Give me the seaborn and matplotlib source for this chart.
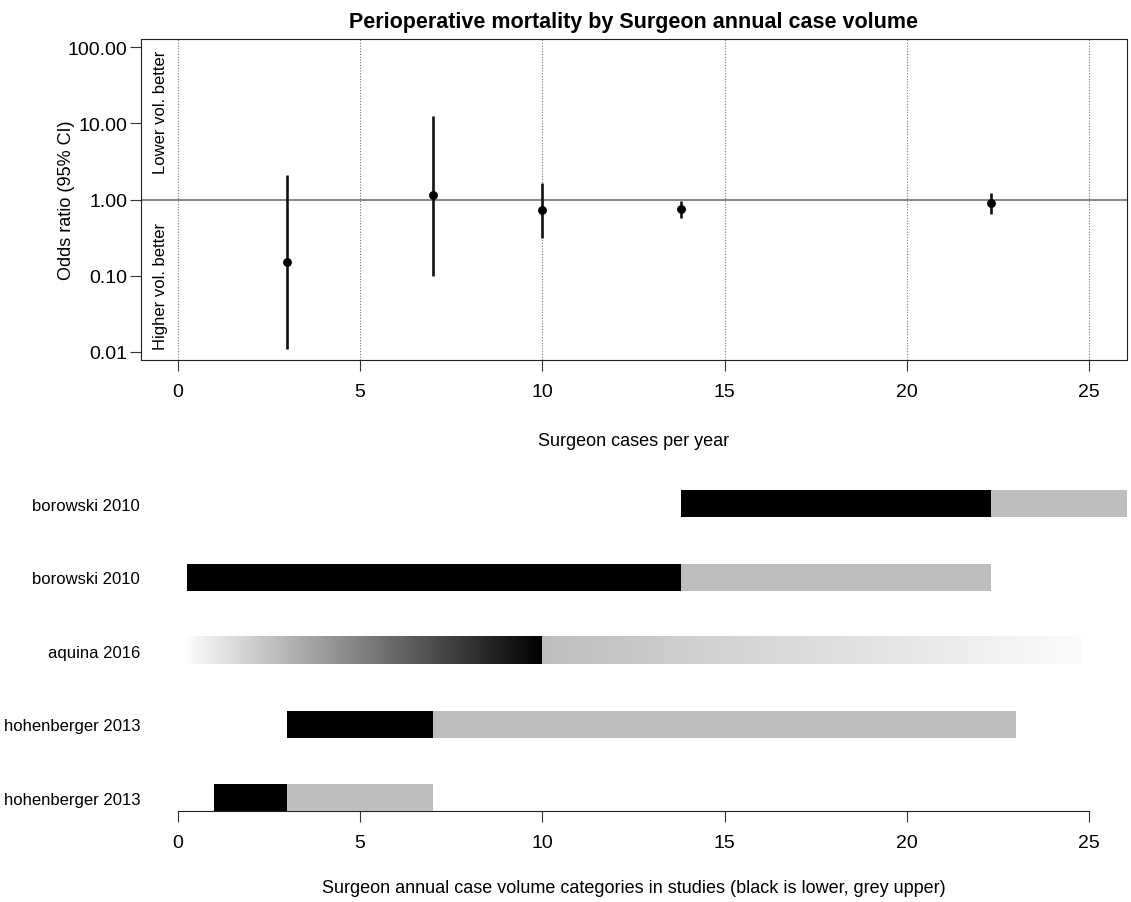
import numpy as np
import pandas as pd
import matplotlib
matplotlib.use("Agg")
import matplotlib.pyplot as plt
import seaborn as sns
from matplotlib.colors import LinearSegmentedColormap

# --- datos: odds ratio por volumen anual del cirujano ---
OR_X = [3.0, 7.0, 10.0, 13.8, 22.3]
OR_EST = [0.15, 1.13, 0.72, 0.75, 0.90]
OR_LO = [0.011, 0.10, 0.31, 0.57, 0.65]
OR_HI = [2.1, 12.6, 1.67, 0.97, 1.21]

# --- categorias de volumen en los estudios (de abajo hacia arriba) ---
STUDIES = ["hohenberger 2013", "hohenberger 2013", "aquina 2016", "borowski 2010", "borowski 2010"]
LOW_START = [1.0, 3.0, 0.15, 0.25, 13.8]
CUTOFF = [3.0, 7.0, 10.0, 13.8, 22.3]
HIGH_END = [7.0, 23.0, 24.8, 22.3, 30.0]
GRADIENT = [False, False, True, False, False]

X_TICKS = [0, 5, 10, 15, 20, 25]
Y_TICKS = [0.01, 0.1, 1, 10, 100]
Y_LABELS = ["0.01", "0.10", "1.00", "10.00", "100.00"]

sns.set_theme(style="white", rc={
    "axes.edgecolor": "#222222",
    "text.color": "black",
    "axes.labelcolor": "black",
    "xtick.color": "black",
    "ytick.color": "black",
    "xtick.bottom": True,
    "ytick.left": True,
    "xtick.direction": "out",
    "ytick.direction": "out",
})
plt.rcParams["font.family"] = ["Liberation Sans", "DejaVu Sans"]

fig = plt.figure(figsize=(11.31, 9.03), dpi=100)
ax1 = fig.add_axes([0.1244, 0.6002, 0.8721, 0.3555])
ax2 = fig.add_axes([0.1244, 0.1008, 0.8721, 0.3648])

XLIM = (-1.015, 26.04)

# ---------- panel superior ----------
df = pd.DataFrame({"x": OR_X, "est": OR_EST, "lo": OR_LO, "hi": OR_HI})
for xv in X_TICKS:
    ax1.axvline(xv, color="#777777", linestyle=(0, (1, 1.5)), linewidth=0.8, zorder=1)
ax1.axhline(1, color="#666666", linewidth=1.1, zorder=1)
ax1.vlines(df["x"], df["lo"], df["hi"], color="#111111", linewidth=1.9, zorder=3)
sns.scatterplot(data=df, x="x", y="est", color="black", s=34, edgecolor="black",
                linewidth=0.5, ax=ax1, zorder=4)
ax1.set_yscale("log")
ax1.set_xlim(*XLIM)
ax1.set_ylim(10 ** -2.109, 10 ** 2.109)
ax1.set_xticks(X_TICKS)
ax1.set_xticklabels([str(t) for t in X_TICKS])
ax1.set_yticks(Y_TICKS)
ax1.set_yticklabels(Y_LABELS)
ax1.yaxis.set_minor_locator(matplotlib.ticker.NullLocator())
ax1.tick_params(axis="both", labelsize=14, length=7.8, width=0.8, color="#333333")
ax1.tick_params(axis="y", pad=2)
ax1.tick_params(axis="x", pad=8.5)
for sp in ax1.spines.values():
    sp.set_linewidth(0.8)
ax1.set_xlabel("Surgeon cases per year", fontsize=13, labelpad=23)
ax1.set_ylabel("Odds ratio (95% CI)", fontsize=13)
ax1.yaxis.set_label_coords(-0.067, 0.5)
ax1.set_title("Perioperative mortality by Surgeon annual case volume",
              fontsize=15.5, fontweight="bold", pad=9)
ax1.text(-0.47, 94, "Lower vol. better", rotation=90, ha="center", va="top", fontsize=12)
ax1.text(-0.47, 0.0109, "Higher vol. better", rotation=90, ha="center", va="bottom", fontsize=12)

# ---------- panel inferior ----------
H = 0.37
rows = np.arange(len(STUDIES))
fade_cmap = LinearSegmentedColormap.from_list("fade", ["#ffffff", "#000000"])
grey_fade = LinearSegmentedColormap.from_list("gfade", ["#bebebe", "#fbfbfb"])
for i in rows:
    if GRADIENT[i]:
        grad = np.linspace(0, 1, 256).reshape(1, -1)
        ax2.imshow(grad, cmap=fade_cmap, aspect="auto", interpolation="bilinear",
                   extent=(LOW_START[i], CUTOFF[i], i - H / 2, i + H / 2), zorder=2)
        ax2.imshow(grad, cmap=grey_fade, aspect="auto", interpolation="bilinear",
                   extent=(CUTOFF[i], HIGH_END[i], i - H / 2, i + H / 2), zorder=2)
    else:
        ax2.barh(i, CUTOFF[i] - LOW_START[i], left=LOW_START[i], height=H,
                 color="black", linewidth=0, zorder=2)
        ax2.barh(i, HIGH_END[i] - CUTOFF[i], left=CUTOFF[i], height=H,
                 color="#bebebe", linewidth=0, zorder=2)

ax2.set_xlim(*XLIM)
ax2.set_ylim(-0.175, 4.3)
for name in ["top", "right", "left"]:
    ax2.spines[name].set_visible(False)
ax2.spines["bottom"].set_bounds(0, 25)
ax2.spines["bottom"].set_linewidth(0.8)
ax2.spines["bottom"].set_zorder(1)
ax2.set_xticks(X_TICKS)
ax2.set_xticklabels([str(t) for t in X_TICKS])
ax2.set_yticks(rows)
ax2.set_yticklabels(STUDIES)
ax2.tick_params(axis="x", labelsize=14, length=7.8, width=0.8, color="#333333", pad=9)
ax2.tick_params(axis="y", labelsize=12, length=0, pad=0.5)
ax2.set_xlabel("Surgeon annual case volume categories in studies (black is lower, grey upper)",
               fontsize=13, labelpad=20)

fig.savefig("out.png", dpi=100)
